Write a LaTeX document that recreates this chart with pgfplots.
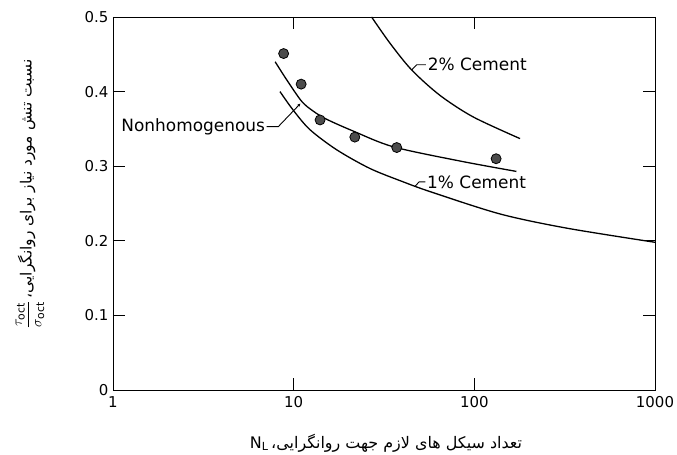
\documentclass[border=0pt]{standalone}
\usepackage{pgfplots}
\pgfplotsset{compat=1.18}
\usepackage{fontspec}
\setmainfont{DejaVu Sans}
\newfontfamily\persian[Script=Arabic]{DejaVu Sans}
\TeXXeTstate=1
\usetikzlibrary{arrows.meta}

\begin{document}
\begin{tikzpicture}
% fixed canvas around the axis box (origin = lower-left corner of the box)
\useasboundingbox (-113bp,-65bp) rectangle (564bp,390bp);
\begin{axis}[
  at={(0,0)}, anchor=south west,
  scale only axis, width=542bp, height=373bp,
  xmode=log, xmin=1, xmax=1000, ymin=0, ymax=0.5,
  xtick={1,10,100,1000}, xticklabels={1,10,100,1000},
  ytick={0,0.1,0.2,0.3,0.4,0.5}, yticklabels={0,0.1,0.2,0.3,0.4,0.5},
  xminorticks=false, yminorticks=false,
  tick align=inside, major tick length=12bp,
  axis line style={line width=0.9bp},
  every tick/.style={black, line width=0.9bp},
  ticklabel style={font=\fontsize{15}{17}\selectfont},
  xticklabel style={yshift=-3bp},
  yticklabel style={xshift=-1bp},
  clip=false,
]
% 2% cement
\addplot[black, line width=1.3bp, smooth] coordinates {
  (27.0,0.500) (34.1,0.465) (45.0,0.429) (64.5,0.395) (98.6,0.366) (179,0.337)
};
% nonhomogenous
\addplot[black, line width=1.3bp, smooth] coordinates {
  (7.9,0.440) (9.14,0.416) (11.07,0.387) (12.8,0.374) (15.2,0.363) (21.4,0.347)
  (35.6,0.326) (83,0.307) (171,0.293)
};
% 1% cement
\addplot[black, line width=1.3bp, smooth] coordinates {
  (8.4,0.400) (9.95,0.375) (12.3,0.349) (17.3,0.322) (26.4,0.297) (40.4,0.279)
  (56.8,0.266) (138.6,0.236) (324,0.217) (1000,0.198)
};
% test results
\addplot[only marks, mark=*, mark size=5bp,
  mark options={fill=black!70, draw=black, line width=0.8bp}] coordinates {
  (8.8,0.451) (11.0,0.410) (14.0,0.362) (21.8,0.339) (37.2,0.325) (132,0.310)
};

\draw[line width=0.9bp] (axis cs:45,0.429) -- (axis cs:48,0.436) -- (axis cs:54,0.436)
  node[right, inner sep=1.5bp, font=\fontsize{17}{20}\selectfont] {2\% Cement};
\draw[line width=0.9bp] (axis cs:46.9,0.273) -- (axis cs:49.5,0.279) -- (axis cs:53.5,0.279)
  node[right, inner sep=1.5bp, font=\fontsize{17}{20}\selectfont] {1\% Cement};
\draw[line width=0.9bp, -{Stealth[length=3.5bp,width=3bp]}] (axis cs:7.09,0.353) -- (axis cs:8.22,0.353) -- (axis cs:10.9,0.384);
\node[left, inner sep=1.5bp, font=\fontsize{17}{20}\selectfont] at (axis cs:7.09,0.353) {Nonhomogenous};
\end{axis}

% axis titles
\node[rotate=90, font=\fontsize{15.5}{18}\selectfont] at (-83bp,196bp)
  {$\displaystyle\frac{\tau_{\mathrm{oct}}}{\sigma_{\mathrm{oct}}}$\,{\persian\beginR نسبت تنش مورد نیاز برای روانگرایی،\endR}};
\node[font=\fontsize{16}{19}\selectfont] at (273bp,-53bp)
  {$\mathrm{N_L}$\,{\persian\beginR تعداد سیکل های لازم جهت روانگرایی،\endR}};
\end{tikzpicture}
\end{document}
